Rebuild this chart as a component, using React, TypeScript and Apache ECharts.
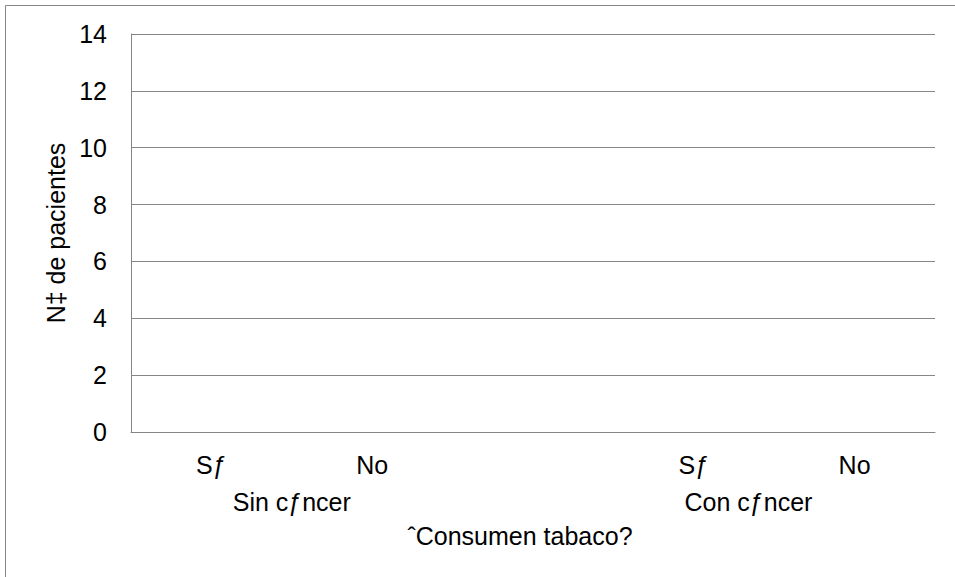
import React, { useEffect, useRef } from "react";
import * as echarts from "echarts";

const categories = ["Sƒ", "No", "", "Sƒ", "No"];
const groupLabels = ["Sin cƒncer", "Con cƒncer"];
const seriesValues: (number | string)[] = ["-", "-", "-", "-", "-"];
const yTicks = { min: 0, max: 14, interval: 2 };
const yAxisName = "N‡ de pacientes";
const xAxisName = "ˆConsumen tabaco?";

const FONT = "'Liberation Sans', Arial, sans-serif";
const GRAY = "#868686";
const FS = 25;

export default function App() {
  const ref = useRef<HTMLDivElement>(null);
  useEffect(() => {
    if (!ref.current) return;
    const chart = echarts.init(ref.current, null, { renderer: "svg" });
    chart.setOption({
      animation: false,
      backgroundColor: "#ffffff",
      grid: { left: 131, right: 20, top: 34, bottom: 145, containLabel: false },
      xAxis: {
        type: "category",
        data: categories,
        axisLine: { show: true, lineStyle: { color: GRAY, width: 1 } },
        axisTick: { show: false },
        axisLabel: {
          color: "#000",
          fontFamily: FONT,
          fontSize: FS,
          margin: 20,
          interval: 0,
        },
        splitLine: { show: false },
      },
      yAxis: {
        type: "value",
        min: yTicks.min,
        max: yTicks.max,
        interval: yTicks.interval,
        name: yAxisName,
        nameLocation: "middle",
        nameGap: 53,
        nameRotate: 90,
        nameTextStyle: { color: "#000", fontFamily: FONT, fontSize: FS },
        axisLine: { show: true, lineStyle: { color: GRAY, width: 1 } },
        axisTick: { show: false },
        axisLabel: { color: "#000", fontFamily: FONT, fontSize: FS, margin: 24 },
        splitLine: { show: true, lineStyle: { color: GRAY, width: 1 } },
      },
      series: [
        {
          type: "bar",
          data: seriesValues,
          itemStyle: { color: "#4F81BD" },
        },
      ],
    });

    const p0 = chart.convertToPixel({ xAxisIndex: 0 }, 0) as number;
    const p1 = chart.convertToPixel({ xAxisIndex: 0 }, 1) as number;
    const p3 = chart.convertToPixel({ xAxisIndex: 0 }, 3) as number;
    const p4 = chart.convertToPixel({ xAxisIndex: 0 }, 4) as number;
    const bandHalf = (p1 - p0) / 2;
    const sinX = (p0 + p1) / 2;
    const conX = (p3 + p4) / 2 - bandHalf * 0.32;
    const plotLeft = 131;
    const plotRight = 955 - 20;

    const textStyle = (text: string) => ({
      text,
      fontFamily: FONT,
      fontSize: FS,
      fill: "#000",
      align: "center",
      verticalAlign: "middle",
    });

    chart.setOption({
      graphic: [
        {
          type: "rect",
          shape: { x: 5.5, y: 5.5, width: 1200, height: 1200 },
          style: { fill: "none", stroke: GRAY, lineWidth: 1 },
          silent: true,
        },
        { type: "text", x: sinX, y: 502, style: textStyle(groupLabels[0]) },
        { type: "text", x: conX, y: 502, style: textStyle(groupLabels[1]) },
        {
          type: "text",
          x: (plotLeft + plotRight) / 2 - 13,
          y: 536,
          style: textStyle(xAxisName),
        },
      ],
    });

    return () => chart.dispose();
  }, []);
  return (
    <div
      ref={ref}
      style={{ position: "fixed", left: 0, top: 0, width: 955, height: 577 }}
    />
  );
}
